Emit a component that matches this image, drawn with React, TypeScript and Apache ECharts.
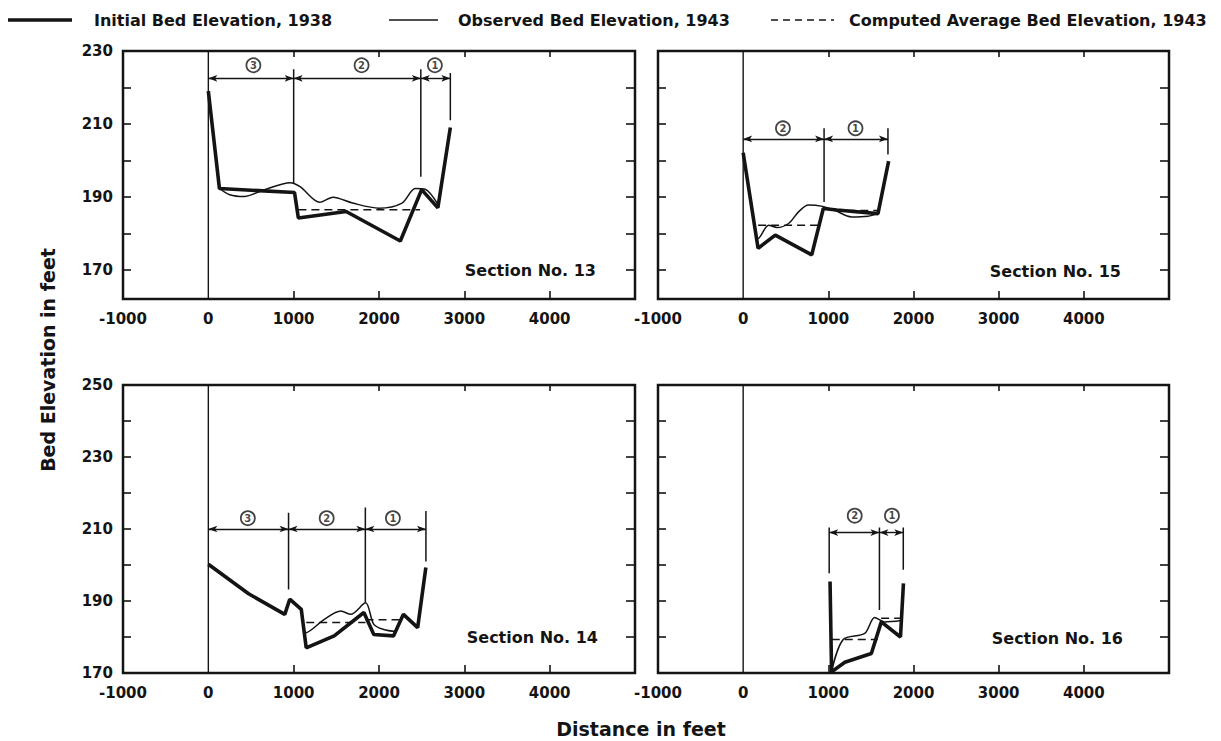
import React, { useEffect, useRef } from "react";
import * as echarts from "echarts";

const FONT = "'DejaVu Sans', sans-serif";
const INK = "#141414";

// ---- axis ticks / labels ----
const xTickVals = [1000, 2000, 3000, 4000];
const xLabelVals = [-1000, 0, 1000, 2000, 3000, 4000];
const yTopTicks = [170, 180, 190, 200, 210, 220];
const yTopLabels = [170, 190, 210, 230];
const yBotTicks = [180, 190, 200, 210, 220, 230, 240];
const yBotLabels = [170, 190, 210, 230, 250];

// ---- Section No. 13 ----
const init13 = [[0, 219], [130, 192.3], [1010, 191.2], [1055, 184.2], [1615, 186], [2250, 177.9], [2500, 192], [2690, 187], [2836, 209]];
const obs13 = [[130, 192.3], [250, 190.6], [420, 190.1], [650, 191.9], [960, 193.9], [1075, 192.8], [1306, 188.5], [1460, 189.9], [1691, 188.3], [2000, 186.9], [2270, 188.3], [2424, 192.3], [2540, 192.1], [2694, 187.8]];
const avg13 = [[[1055, 186.5], [2482, 186.5]]];
const dim13 = { y: 222.5, bounds: [0, 1000, 2490, 2836] };
const vert13 = [[1000, 225, 193.7], [2490, 225, 195.5], [2836, 224, 211]];
const zones13 = [[528, 226.1, "3"], [1796, 226.1, "2"], [2655, 226.1, "1"]];

// ---- Section No. 15 ----
const init15 = [[0, 202.1], [175, 175.9], [377, 179.5], [805, 174.1], [941, 186.8], [1100, 186.4], [1583, 185.4], [1708, 199.8]];
const obs15 = [[140, 181.1], [175, 178.6], [300, 182.2], [397, 181.6], [533, 182.7], [650, 185.9], [767, 187.8], [933, 187.4], [1077, 186.3], [1272, 184.5], [1466, 184.7], [1583, 185.4]];
const avg15 = [[[175, 182.2], [902, 182.2]], [[1070, 186.3], [1583, 186.3]]];
const dim15 = { y: 205.9, bounds: [0, 950, 1700] };
const vert15 = [[950, 208.8, 188.6], [1700, 208.8, 201.6]];
const zones15 = [[467, 208.8, "2"], [1319, 208.8, "1"]];

// ---- Section No. 14 ----
const init14 = [[0, 200.2], [472, 192], [896, 186.3], [954, 190.5], [1089, 187.7], [1147, 177], [1475, 180.3], [1823, 186.8], [1939, 180.7], [2170, 180.3], [2286, 186.3], [2453, 182.6], [2549, 199.3]];
const obs14 = [[1100, 185.7], [1147, 181.2], [1359, 184.9], [1553, 187.2], [1669, 186.3], [1842, 189.5], [1939, 183.5], [2054, 182.1], [2200, 181.5]];
const avg14 = [[[1147, 184], [1842, 184]], [[1842, 184.8], [2286, 184.8]]];
const dim14 = { y: 210, bounds: [0, 940, 1840, 2550] };
const vert14 = [[940, 214.5, 193.2], [1840, 216, 189.5], [2550, 215, 201]];
const zones14 = [[463, 213, "3"], [1387, 213, "2"], [2163, 213, "1"]];

// ---- Section No. 16 ----
const init16 = [[1020, 195.4], [1038, 170.3], [1194, 173], [1505, 175.4], [1622, 184.2], [1847, 180], [1882, 194.9]];
const obs16 = [[1038, 170.5], [1175, 179.3], [1427, 181], [1544, 185.4], [1661, 184.2], [1860, 184.6]];
const avg16 = [[[1040, 179.3], [1580, 179.3]], [[1620, 185.2], [1860, 185.2]]];
const dim16 = { y: 209, bounds: [1010, 1600, 1880] };
const vert16 = [[1010, 210.4, 197.7], [1600, 210.4, 187.5], [1880, 210.4, 198.7]];
const zones16 = [[1310, 213.7, "2"], [1747, 213.7, "1"]];

const panels = [
  { name: "Section No. 13", grid: { left: 123, top: 51, width: 512, height: 248 }, yMin: 162, yMax: 230, yTicks: yTopTicks, yLabels: yTopLabels, showY: true, init: init13, obs: obs13, avg: avg13, dim: dim13, vert: vert13, zones: zones13, textPos: [596, 270] },
  { name: "Section No. 15", grid: { left: 658, top: 51, width: 511, height: 248 }, yMin: 162, yMax: 230, yTicks: yTopTicks, yLabels: yTopLabels, showY: false, init: init15, obs: obs15, avg: avg15, dim: dim15, vert: vert15, zones: zones15, textPos: [1121, 271] },
  { name: "Section No. 14", grid: { left: 123, top: 385, width: 512, height: 288 }, yMin: 170, yMax: 250, yTicks: yBotTicks, yLabels: yBotLabels, showY: true, init: init14, obs: obs14, avg: avg14, dim: dim14, vert: vert14, zones: zones14, textPos: [598, 637] },
  { name: "Section No. 16", grid: { left: 658, top: 385, width: 511, height: 288 }, yMin: 170, yMax: 250, yTicks: yBotTicks, yLabels: yBotLabels, showY: false, init: init16, obs: obs16, avg: avg16, dim: dim16, vert: vert16, zones: zones16, textPos: [1123, 638] },
];

const plain = (v: number) => String(v);

function buildOption() {
  const grid: any[] = [];
  const xAxis: any[] = [];
  const yAxis: any[] = [];
  const series: any[] = [];
  const graphic: any[] = [];
  const tickStyle = { color: INK, width: 1.6 };
  const labelStyle = { color: INK, fontSize: 15, fontWeight: "bold", fontFamily: FONT, formatter: plain };
  const noLine = { show: false, onZero: false };

  panels.forEach((p, i) => {
    grid.push({ ...p.grid, show: true, borderColor: INK, borderWidth: 2.5, backgroundColor: "transparent" });
    xAxis.push({
      type: "value", gridIndex: i, min: -1000, max: 5000, position: "bottom",
      axisLine: noLine, splitLine: { show: false },
      axisTick: { show: true, inside: true, length: 8, lineStyle: tickStyle, customValues: xTickVals },
      axisLabel: { ...labelStyle, margin: 12, customValues: xLabelVals },
    });
    xAxis.push({
      type: "value", gridIndex: i, min: -1000, max: 5000, position: "top",
      axisLine: noLine, splitLine: { show: false },
      axisTick: { show: true, inside: true, length: 6, lineStyle: tickStyle, customValues: xTickVals },
      axisLabel: { show: false },
    });
    yAxis.push({
      type: "value", gridIndex: i, min: p.yMin, max: p.yMax, position: "left",
      axisLine: noLine, splitLine: { show: false },
      axisTick: { show: true, inside: true, length: 8, lineStyle: tickStyle, customValues: p.yTicks },
      axisLabel: p.showY ? { ...labelStyle, margin: 10, customValues: p.yLabels } : { show: false },
    });
    yAxis.push({
      type: "value", gridIndex: i, min: p.yMin, max: p.yMax, position: "right",
      axisLine: noLine, splitLine: { show: false },
      axisTick: { show: true, inside: true, length: 9, lineStyle: tickStyle, customValues: p.yTicks },
      axisLabel: { show: false },
    });
    const xi = 2 * i, yi = 2 * i;
    const base = { type: "line", xAxisIndex: xi, yAxisIndex: yi, symbol: "none", silent: true, animation: false };
    // zero line
    series.push({ ...base, name: "zero" + i, data: [[0, p.yMin], [0, p.yMax]], lineStyle: { color: INK, width: 1.4 }, z: 2 });
    // initial bed
    series.push({ ...base, name: "Initial Bed Elevation, 1938", data: p.init, lineStyle: { color: INK, width: 3.6 }, z: 5 });
    // observed
    series.push({ ...base, name: "Observed Bed Elevation, 1943", data: p.obs, smooth: 0.3, lineStyle: { color: INK, width: 1.5 }, z: 4 });
    // average
    p.avg.forEach((seg) => {
      series.push({ ...base, name: "Computed Average Bed Elevation, 1943", data: seg, lineStyle: { color: INK, width: 1.5, type: [8, 5] }, z: 3 });
    });
    // boundary verticals
    p.vert.forEach(([x, y1, y2]) => {
      series.push({ ...base, name: "bound", data: [[x, y1], [x, y2]], lineStyle: { color: INK, width: 1.5 }, z: 3 });
    });
    // dimension line with arrows
    const b = p.dim.bounds;
    const segs: any[] = [];
    for (let k = 0; k < b.length - 1; k++) {
      segs.push([{ coord: [b[k], p.dim.y] }, { coord: [b[k + 1], p.dim.y] }]);
    }
    series.push({
      ...base, name: "dim", data: [],
      markLine: { silent: true, symbol: ["arrow", "arrow"], symbolSize: [5, 9], label: { show: false }, lineStyle: { color: INK, width: 1.4, type: "solid" }, emphasis: { disabled: true }, data: segs, animation: false },
    });
    // zone circles
    series.push({
      type: "scatter", xAxisIndex: xi, yAxisIndex: yi, silent: true, name: "zones",
      data: p.zones, symbol: "circle", symbolSize: 14,
      itemStyle: { color: "#fff", borderColor: INK, borderWidth: 1.8 },
      label: { show: true, position: "inside", formatter: (q: any) => q.value[2], color: INK, fontSize: 10, fontWeight: "bold", fontFamily: FONT },
      z: 6,
    });
    graphic.push({
      type: "text", x: p.textPos[0], y: p.textPos[1],
      style: { text: p.name, fill: INK, fontSize: 16, fontWeight: "bold", fontFamily: FONT, align: "right", verticalAlign: "middle" },
    });
  });

  // legend
  const ly = 20;
  const lf = { fill: INK, fontSize: 16, fontWeight: "bold", fontFamily: FONT, align: "left", verticalAlign: "middle" };
  graphic.push({ type: "line", shape: { x1: 8, y1: ly, x2: 72, y2: ly }, style: { stroke: INK, lineWidth: 3.6 } });
  graphic.push({ type: "text", x: 94, y: ly, style: { text: "Initial Bed Elevation, 1938", ...lf } });
  graphic.push({ type: "line", shape: { x1: 389, y1: ly, x2: 438, y2: ly }, style: { stroke: INK, lineWidth: 1.6 } });
  graphic.push({ type: "text", x: 458, y: ly, style: { text: "Observed Bed Elevation, 1943", ...lf } });
  graphic.push({ type: "line", shape: { x1: 771, y1: ly, x2: 834, y2: ly }, style: { stroke: INK, lineWidth: 1.6, lineDash: [7, 5] } });
  graphic.push({ type: "text", x: 849, y: ly, style: { text: "Computed Average Bed Elevation, 1943", ...lf } });
  // axis names
  graphic.push({ type: "text", x: 641, y: 729, style: { text: "Distance in feet", fill: INK, fontSize: 19, fontWeight: "bold", fontFamily: FONT, align: "center", verticalAlign: "middle" } });
  graphic.push({ type: "text", x: 48, y: 360, rotation: Math.PI / 2, style: { text: "Bed Elevation in feet", fill: INK, fontSize: 19, fontWeight: "bold", fontFamily: FONT, align: "center", verticalAlign: "middle" } });

  return { animation: false, backgroundColor: "#fff", grid, xAxis, yAxis, series, graphic };
}

export default function App() {
  const ref = useRef<HTMLDivElement>(null);
  useEffect(() => {
    if (!ref.current) return;
    const chart = echarts.init(ref.current, null, { renderer: "svg" });
    chart.setOption(buildOption() as any);
    return () => chart.dispose();
  }, []);
  return <div ref={ref} style={{ width: 1221, height: 741, position: "absolute", left: 0, top: 0 }} />;
}
